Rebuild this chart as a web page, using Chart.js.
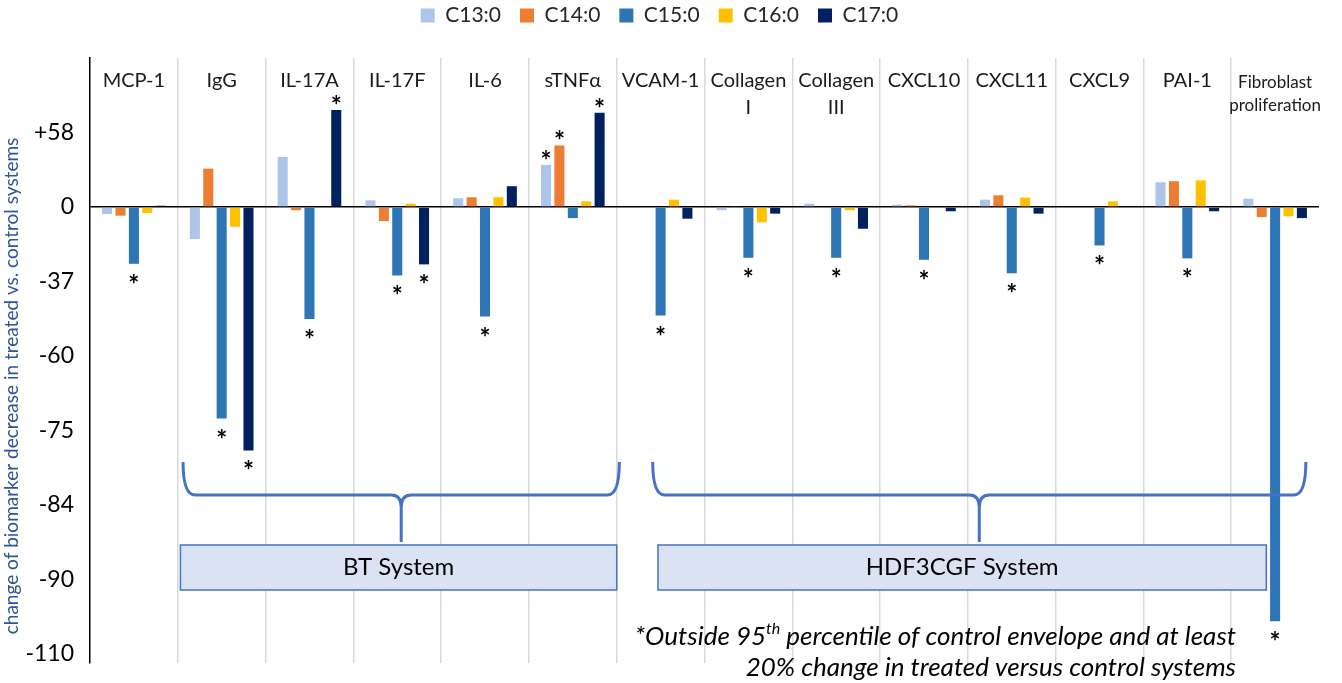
<!DOCTYPE html>
<html>
<head>
<meta charset="utf-8">
<title>Biomarker change by fatty acid</title>
<script src="https://cdn.jsdelivr.net/npm/chart.js@4.4.1/dist/chart.umd.min.js"></script>
<style>
  html, body { margin: 0; padding: 0; background: #fff; }
  #wrap { width: 1342px; height: 683px; position: relative; }
</style>
</head>
<body>
<div id="wrap"><canvas id="chart"></canvas></div>
<script>
// ---- data ----
const categories = ['MCP-1', 'IgG', 'IL-17A', 'IL-17F', 'IL-6', 'sTNFα', 'VCAM-1',
    ['Collagen', 'I'], ['Collagen', 'III'], 'CXCL10', 'CXCL11', 'CXCL9', 'PAI-1',
    ['Fibroblast', 'proliferation']];
const seriesNames = ['C13:0', 'C14:0', 'C15:0', 'C16:0', 'C17:0'];
const c13 = [-3.5, -15.9, 39.0, 5.2, 6.8, 32.8, 0, -1.6, 2.6, 1.8, 5.7, 0, 19.3, 6.5];
const c14 = [-4.3, 29.9, -1.6, -7.0, 7.6, 47.9, -0.5, 0.5, -0.3, 1.3, 9.1, 0, 20.1, -5.0];
const c15 = [-28.2, -72.6, -48.6, -34.0, -47.8, -5.5, -47.5, -25.2, -25.2, -26.2, -32.9, -19.1, -25.5, -101.2];
const c16 = [-3.0, -9.8, 0, 2.6, 7.6, 4.4, 5.7, -7.6, -1.6, 0, 7.3, 4.4, 20.8, -4.6];
const c17 = [1.0, -77.4, 75.5, -28.5, 16.2, 73.4, -5.8, -3.3, -10.8, -2.1, -3.3, 0, -2.1, -5.5];
// the axis labels are not evenly spaced in value, only in position
const tickValues = [58, 0, -37, -60, -75, -84, -90, -110];
// bars marked with * : [series index, category index]
const starred = [[2, 0], [2, 1], [4, 1], [2, 2], [4, 2], [2, 3], [4, 3], [2, 4],
    [0, 5], [1, 5], [4, 5], [2, 6], [2, 7], [2, 8], [2, 9], [2, 10], [2, 11], [2, 12], [2, 13]];
const groupNames = ['BT System', 'HDF3CGF System'];
const groupFirst = [1, 6];
const groupLast = [5, 13];
const footnote = ['*Outside 95', 'th', ' percentile of control envelope and at least',
    '20% change in treated versus control systems'];

const seriesValues = [c13, c14, c15, c16, c17];
const seriesColors = ['#ADC5E9', '#ED7D31', '#2E75B6', '#FFC000', '#002060'];
const FONT = 'Lato, "Noto Sans", sans-serif';

// labelled tick k sits at axis position 1 - k, values in between are interpolated
function toAxis(v) {
    if (v >= 0) return v / tickValues[0];
    for (let k = 1; k < tickValues.length - 1; k++) {
        if (v >= tickValues[k + 1]) {
            return (1 - k) - (tickValues[k] - v) / (tickValues[k] - tickValues[k + 1]);
        }
    }
    const n = tickValues.length - 1;
    return (1 - n) - (tickValues[n] - v) / (tickValues[n - 1] - tickValues[n]);
}

// hand placement of the braces / boxes, in category widths from first/last category centre
const braceFit = [
    { l: -0.44, r: 0.53, bl: -0.47, br: 0.50 },
    { l: -0.09, r: 0.35, bl: -0.03, br: -0.10 }
];

const overlay = {
    id: 'overlay',
    beforeLayout(chart) {
        const lg = chart.legend;
        if (lg && !lg._fixed) {
            const fit = lg.fit;
            lg.fit = function () { fit.call(this); this.height = 72; };
            lg._fixed = true;
        }
    },
    afterDatasetsDraw(chart) {
        const { ctx, chartArea, scales: { x } } = chart;
        const top = chartArea.top;
        const catW = x.getPixelForValue(1) - x.getPixelForValue(0);
        ctx.save();

        // category names along the top
        ctx.fillStyle = '#1a1a1a';
        ctx.textAlign = 'center';
        ctx.textBaseline = 'middle';
        categories.forEach((name, i) => {
            const lines = Array.isArray(name) ? name : [name];
            const size = lines.some(t => t.length > 9) ? 17 : 20;
            ctx.font = size + 'px ' + FONT;
            lines.forEach((t, j) => {
                ctx.fillText(t, x.getPixelForValue(i), top + 23 + (size < 20 ? 2 : 0) + j * Math.round(size * 1.35));
            });
        });

        // significance stars
        ctx.fillStyle = '#000';
        ctx.font = 'bold 26px ' + FONT;
        ctx.textBaseline = 'alphabetic';
        starred.forEach(([s, c]) => {
            const bar = chart.getDatasetMeta(s).data[c];
            const up = seriesValues[s][c] >= 0;
            ctx.fillText('*', bar.x, up ? bar.y + 5 : bar.y + 30);
        });

        // braces and group boxes
        const yTop = top + 404, yMid = top + 437, yTip = top + 484;
        const boxTop = top + 487, boxH = 45;
        groupNames.forEach((g, i) => {
            const f = braceFit[i];
            const x0 = x.getPixelForValue(groupFirst[i]);
            const x1 = x.getPixelForValue(groupLast[i]);
            const L = x0 + f.l * catW, R = x1 + f.r * catW, C = (L + R) / 2;
            ctx.strokeStyle = '#4472C4';
            ctx.lineWidth = 3;
            ctx.beginPath();
            ctx.moveTo(L, yTop);
            ctx.quadraticCurveTo(L, yMid, L + 12, yMid);
            ctx.lineTo(C - 10, yMid);
            ctx.quadraticCurveTo(C, yMid, C, yMid + 12);
            ctx.lineTo(C, yTip);
            ctx.moveTo(R, yTop);
            ctx.quadraticCurveTo(R, yMid, R - 12, yMid);
            ctx.lineTo(C + 10, yMid);
            ctx.quadraticCurveTo(C, yMid, C, yMid + 12);
            ctx.stroke();

            const bL = x0 + f.bl * catW, bR = x1 + f.br * catW;
            ctx.fillStyle = '#DAE3F3';
            ctx.fillRect(bL, boxTop, bR - bL, boxH);
            ctx.lineWidth = 1.5;
            ctx.strokeRect(bL, boxTop, bR - bL, boxH);
            ctx.fillStyle = '#000';
            ctx.font = '24px ' + FONT;
            ctx.textAlign = 'center';
            ctx.textBaseline = 'middle';
            ctx.fillText(g, (bL + bR) / 2, boxTop + boxH / 2);
        });

        // footnote, right aligned, with a superscript "th"
        const right = 1236;
        ctx.fillStyle = '#000';
        ctx.textAlign = 'left';
        ctx.textBaseline = 'middle';
        const big = 'italic 26px ' + FONT, sup = 'italic 16px ' + FONT;
        ctx.font = big;
        const w1 = ctx.measureText(footnote[0]).width, w3 = ctx.measureText(footnote[2]).width;
        ctx.font = sup;
        const w2 = ctx.measureText(footnote[1]).width;
        let fx = right - (w1 + w2 + w3);
        const fy = top + 579;
        ctx.font = big; ctx.fillText(footnote[0], fx, fy); fx += w1;
        ctx.font = sup; ctx.fillText(footnote[1], fx, fy - 8); fx += w2;
        ctx.font = big; ctx.fillText(footnote[2], fx, fy);
        ctx.textAlign = 'right';
        ctx.fillText(footnote[3], right, fy + 31);

        // y axis title
        ctx.translate(12, 386);
        ctx.rotate(-Math.PI / 2);
        ctx.textAlign = 'center';
        ctx.font = '19px ' + FONT;
        ctx.fillStyle = '#2F5597';
        ctx.fillText('change of biomarker decrease in treated vs. control systems', 0, 0);
        ctx.restore();
    }
};

Chart.defaults.font.family = FONT;
Chart.defaults.color = '#000';

new Chart(document.getElementById('chart'), {
    type: 'bar',
    data: {
        labels: categories,
        datasets: seriesNames.map((name, i) => ({
            label: name,
            data: seriesValues[i].map(toAxis),
            backgroundColor: seriesColors[i],
            borderWidth: 0,
            categoryPercentage: 0.763,
            barPercentage: 0.75
        }))
    },
    options: {
        responsive: true,
        maintainAspectRatio: false,
        animation: false,
        layout: { padding: { top: -14, right: 23, bottom: 20, left: 0 } },
        plugins: {
            legend: {
                position: 'top',
                labels: { boxWidth: 14, boxHeight: 14, padding: 19, color: '#262626', font: { size: 21 } }
            },
            tooltip: { enabled: false }
        },
        scales: {
            x: {
                ticks: { display: false },
                grid: {
                    offset: true,
                    drawTicks: false,
                    lineWidth: 1.5,
                    color: c => (c.index === undefined || c.index === 0) ? 'rgba(0,0,0,0)' : '#D9D9D9'
                },
                border: { display: false }
            },
            y: {
                min: -6.12,
                max: 2,
                afterFit(scale) {
                    scale.width = 90;
                    // the -110 label may hang below the plot, it should not shrink it
                    scale.paddingTop = 0;
                    scale.paddingBottom = 0;
                },
                afterBuildTicks(scale) {
                    scale.ticks = tickValues.map((v, k) => ({ value: 1 - k }));
                },
                ticks: {
                    padding: 16,
                    color: '#000',
                    font: { size: 23 },
                    callback: (val, k) => (tickValues[k] > 0 ? '+' : '') + tickValues[k]
                },
                grid: {
                    drawTicks: false,
                    lineWidth: 1.5,
                    color: c => (c.tick && c.tick.value === 0) ? '#000' : 'rgba(0,0,0,0)'
                },
                border: { display: true, color: '#000', width: 1.5 }
            }
        }
    },
    plugins: [overlay]
});
</script>
</body>
</html>
